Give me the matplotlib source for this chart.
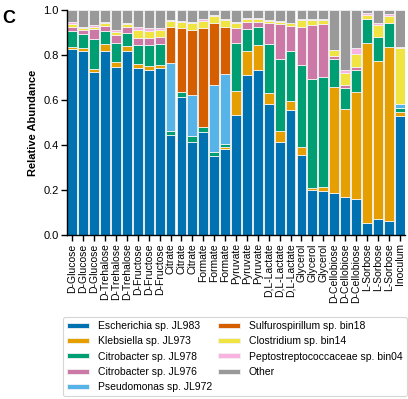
import matplotlib
matplotlib.use("Agg")
import matplotlib.pyplot as plt
import numpy as np

plt.rcParams['font.family'] = ['Liberation Sans', 'DejaVu Sans']

samples = ["D-Glucose"] * 3 + ["D-Trehalose"] * 3 + ["D-Fructose"] * 3 + ["Citrate"] * 3 + \
          ["Formate"] * 3 + ["Pyruvate"] * 3 + ["D,L-Lactate"] * 3 + ["Glycerol"] * 3 + \
          ["D-Cellobiose"] * 3 + ["L-Sorbose"] * 3 + ["Inoculum"]

escherichia = [0.825, 0.819, 0.726, 0.819, 0.748, 0.818, 0.744, 0.733, 0.741,
               0.444, 0.615, 0.415, 0.459, 0.351, 0.382, 0.533, 0.711, 0.733,
               0.582, 0.415, 0.556, 0.356, 0.200, 0.196, 0.185, 0.170, 0.160,
               0.055, 0.070, 0.062, 0.529]
klebsiella = [0.009, 0.014, 0.013, 0.030, 0.022, 0.022, 0.015, 0.018, 0.015,
              0.0, 0.0, 0.0, 0.0, 0.0, 0.010, 0.107, 0.107, 0.111,
              0.048, 0.047, 0.041, 0.037, 0.010, 0.016, 0.471, 0.389, 0.477,
              0.797, 0.703, 0.775, 0.019]
citro978 = [0.073, 0.059, 0.131, 0.058, 0.082, 0.059, 0.085, 0.093, 0.091,
            0.020, 0.021, 0.026, 0.022, 0.019, 0.012, 0.212, 0.096, 0.079,
            0.219, 0.319, 0.222, 0.363, 0.483, 0.489, 0.125, 0.093, 0.096,
            0.107, 0.108, 0.104, 0.018]
citro976 = [0.019, 0.019, 0.044, 0.023, 0.037, 0.024, 0.033, 0.033, 0.034,
            0.0, 0.0, 0.0, 0.0, 0.0, 0.0, 0.067, 0.034, 0.025,
            0.095, 0.157, 0.110, 0.170, 0.240, 0.237, 0.015, 0.015, 0.015,
            0.0, 0.0, 0.0, 0.0]
pseudomonas = [0.0, 0.0, 0.0, 0.0, 0.0, 0.0, 0.0, 0.0, 0.0,
               0.299, 0.0, 0.181, 0.0, 0.297, 0.312, 0.0, 0.0, 0.0,
               0.0, 0.0, 0.0, 0.0, 0.0, 0.0, 0.0, 0.0, 0.0,
               0.0, 0.0, 0.0, 0.016]
sulfurospirillum = [0.0, 0.0, 0.0, 0.0, 0.0, 0.0, 0.0, 0.0, 0.0,
                    0.163, 0.283, 0.289, 0.438, 0.274, 0.210, 0.0, 0.0, 0.0,
                    0.0, 0.0, 0.0, 0.0, 0.0, 0.0, 0.0, 0.0, 0.0,
                    0.0, 0.0, 0.0, 0.0]
clostridium = [0.012, 0.010, 0.012, 0.011, 0.015, 0.015, 0.034, 0.030, 0.030,
               0.027, 0.029, 0.033, 0.034, 0.032, 0.030, 0.022, 0.011, 0.011,
               0.009, 0.010, 0.012, 0.030, 0.023, 0.018, 0.025, 0.054, 0.055,
               0.019, 0.052, 0.032, 0.248]
pepto = [0.010, 0.005, 0.007, 0.007, 0.007, 0.006, 0.012, 0.012, 0.008,
         0.004, 0.004, 0.004, 0.007, 0.003, 0.003, 0.007, 0.004, 0.004,
         0.003, 0.003, 0.003, 0.003, 0.003, 0.003, 0.0, 0.012, 0.027,
         0.007, 0.011, 0.009, 0.007]

series = [
    ("Escherichia sp. JL983", escherichia, "#0072B2"),
    ("Klebsiella sp. JL973", klebsiella, "#E69F00"),
    ("Citrobacter sp. JL978", citro978, "#009E73"),
    ("Citrobacter sp. JL976", citro976, "#CC79A7"),
    ("Pseudomonas sp. JL972", pseudomonas, "#56B4E9"),
    ("Sulfurospirillum sp. bin18", sulfurospirillum, "#D55E00"),
    ("Clostridium sp. bin14", clostridium, "#F0E442"),
    ("Peptostreptococcaceae sp. bin04", pepto, "#F9B3E0"),
]
known = np.sum([np.array(s[1]) for s in series], axis=0)
other = list(np.clip(1.0 - known, 0, None))
series.append(("Other", other, "#999999"))

fig = plt.figure(figsize=(4.08, 3.99), dpi=100)
ax = fig.add_axes([0.164, 0.411, 0.829, 0.564])

x = np.arange(len(samples))
bottom = np.zeros(len(samples))
handles = []
for name, vals, col in series:
    v = np.array(vals)
    b = ax.bar(x, v, bottom=bottom, width=0.9, color=col, edgecolor="#f2f2f2",
               linewidth=0.6, label=name)
    handles.append(b)
    bottom += v

ax.set_xlim(-0.5, len(samples) - 0.5)
ax.set_ylim(0, 1.0)
ax.set_yticks([0.0, 0.2, 0.4, 0.6, 0.8, 1.0])
ax.set_yticklabels(["0.0", "0.2", "0.4", "0.6", "0.8", "1.0"], fontsize=8)
ax.set_xticks(x)
ax.set_xticklabels(samples, rotation=90, fontsize=7.5)
ax.set_ylabel("Relative Abundance", fontsize=8, fontweight="bold")
for s in ["top", "right"]:
    ax.spines[s].set_visible(False)
ax.spines["left"].set_linewidth(1.0)
ax.spines["bottom"].set_linewidth(1.0)
ax.tick_params(axis="both", length=4, width=1.0, pad=2)

fig.text(0.005, 0.975, "C", fontsize=13, fontweight="bold", va="top", ha="left")

leg = fig.legend(handles=handles, labels=[s[0] for s in series], ncol=2,
                 loc="upper left", bbox_to_anchor=(62.7 / 408, 1 - 317 / 399),
                 fontsize=7.5, frameon=True, handlelength=2.1, handleheight=0.35,
                 handletextpad=0.85, columnspacing=0.6, labelspacing=0.5,
                 borderpad=0.4, borderaxespad=0.0)
leg.get_frame().set_edgecolor("#cccccc")
leg.get_frame().set_linewidth(0.8)

fig.savefig("out.png", dpi=100)
